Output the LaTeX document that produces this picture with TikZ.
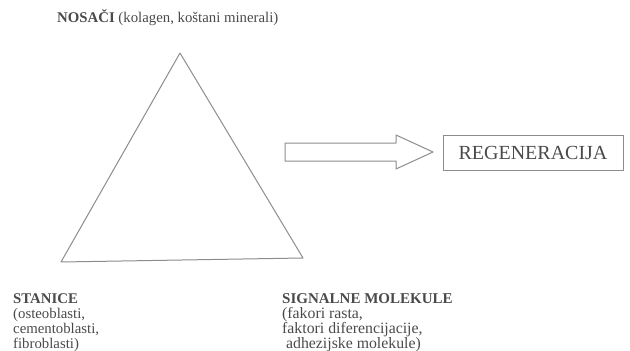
\documentclass[tikz,border=0pt]{standalone}
\usepackage{fontspec}
\setmainfont{Liberation Serif}
\usetikzlibrary{positioning,calc}
\definecolor{linegray}{HTML}{8C8C8C}
\definecolor{textgray}{HTML}{4A4A4A}

\begin{document}
\begin{tikzpicture}[
        x=1pt, y=-1pt,
        caption/.style={
          anchor=north west,
          inner sep=0pt,
          align=left,
          text=textgray,
          font=\fontsize{14.8}{15}\selectfont
        },
        result/.style={
          draw=linegray,
          line width=0.9pt,
          minimum width=180pt,
          minimum height=35pt,
          text=textgray,
          font=\fontsize{20}{22}\selectfont
        },
        edge/.style={
          draw=linegray,
          line width=1pt,
          line join=round
        }
      ]
      \useasboundingbox (0,0) rectangle (630,351);

      % corners of the triangle
      \coordinate (apex) at (180,53);
      \coordinate (cells) at (61,262);
      \coordinate (signals) at (303,258);
      \draw[edge] (apex) -- (cells) -- (signals) -- cycle;

      \node[caption, anchor=base west] (nosaci) at (57,22)
        {\textbf{NOSAČI} (kolagen, koštani minerali)};
      \node[caption] (stanice) at (13,293.5)
        {\textbf{STANICE}\\(osteoblasti,\\cementoblasti,\\fibroblasti)};
      \node[caption, font=\fontsize{15.8}{15}\selectfont] (signalne) at (282,293.5)
        {{\fontsize{15}{15}\selectfont\textbf{SIGNALNE MOLEKULE}}\\(fakori rasta,\\faktori diferencijacije,\\\ adhezijske molekule)};

      % hollow arrow towards the result
      \coordinate (tail) at (285,152);
      \draw[edge] (tail) ++(0,-9) -- ++(111,0) -- ++(0,-8) -- (433,152)
        -- (396,169) -- ++(0,-8) -- ++(-111,0) -- cycle;

      \node[result] (regen) at (533,152.5) {REGENERACIJA};

      \end{tikzpicture}
\end{document}
